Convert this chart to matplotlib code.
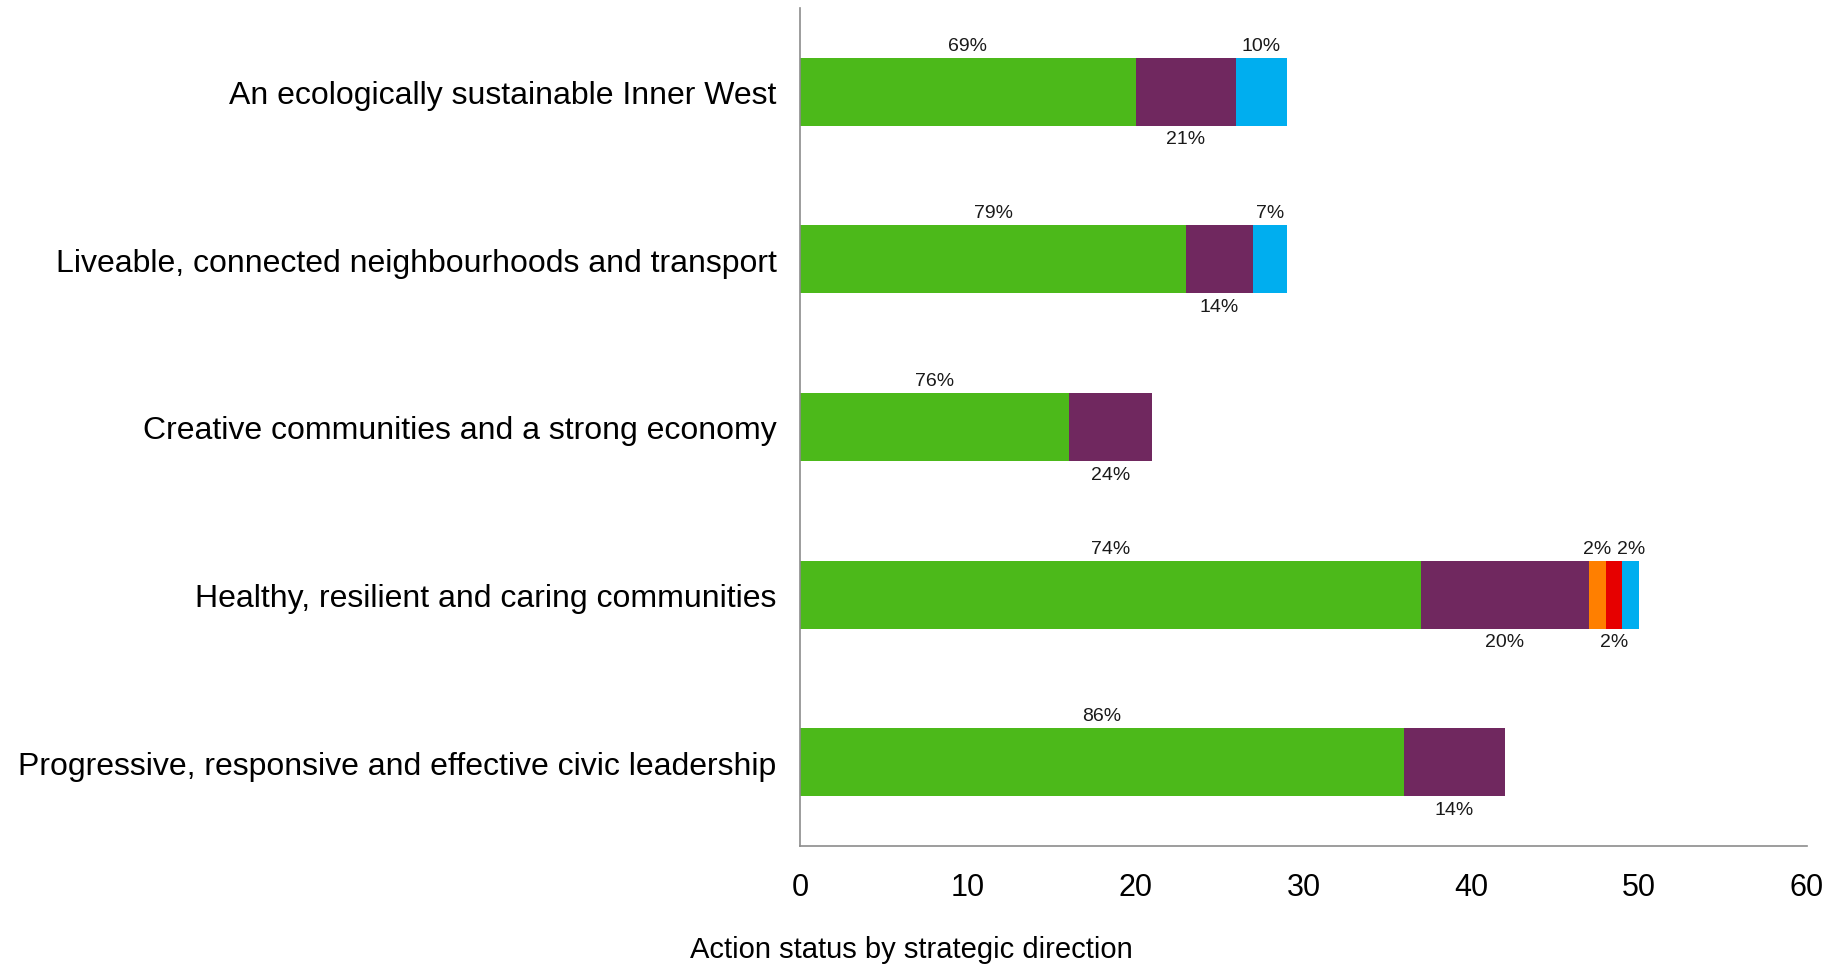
import numpy as np
import matplotlib.pyplot as plt

plt.rcParams['font.family'] = ['Liberation Sans', 'DejaVu Sans']

# Strategic directions (top to bottom)
directions = [
    "An ecologically sustainable Inner West",
    "Liveable, connected neighbourhoods and transport",
    "Creative communities and a strong economy",
    "Healthy, resilient and caring communities",
    "Progressive, responsive and effective civic leadership",
]

# Number of actions per status
green = [20, 23, 16, 37, 36]
purple = [6, 4, 5, 10, 6]
orange = [0, 0, 0, 1, 0]
red = [0, 0, 0, 1, 0]
blue = [3, 2, 0, 1, 0]

series = [green, purple, orange, red, blue]
colours = ["#4cb91a", "#70285f", "#ff7f00", "#e60000", "#00aeef"]

xticks = [0, 10, 20, 30, 40, 50, 60]

fig = plt.figure(figsize=(18.43, 9.70), dpi=100)
ax = fig.add_axes([800 / 1843, 1 - 847 / 970, 1007 / 1843, 838 / 970])

y = np.arange(len(directions))
totals = np.sum(series, axis=0)
left = np.zeros(len(directions))

for i, (vals, col) in enumerate(zip(series, colours)):
    vals = np.array(vals, dtype=float)
    ax.barh(y, vals, left=left, height=0.405, color=col, linewidth=0)
    # labels alternate above / below the bar
    for j, v in enumerate(vals):
        if v == 0:
            continue
        pct = "%d%%" % round(v / totals[j] * 100)
        if i % 2 == 0:
            ax.annotate(pct, (left[j] + v / 2, y[j] - 0.2025), xytext=(0, 9),
                        textcoords='offset points', ha='center', va='center',
                        fontsize=14, color='#1a1a1a')
        else:
            ax.annotate(pct, (left[j] + v / 2, y[j] + 0.2025), xytext=(0, -9.5),
                        textcoords='offset points', ha='center', va='center',
                        fontsize=14, color='#1a1a1a')
    left += vals

ax.set_xlim(0, 60)
ax.set_ylim(4.5, -0.5)
ax.set_xticks(xticks)
ax.set_xticklabels([str(t) for t in xticks], fontsize=22)
ax.set_yticks(y)
ax.set_yticklabels(directions, fontsize=23)
ax.tick_params(axis='x', length=0, pad=19)
ax.tick_params(axis='y', length=0, pad=17)

for s in ['top', 'right']:
    ax.spines[s].set_visible(False)
for s in ['left', 'bottom']:
    ax.spines[s].set_color('#8c8c8c')
    ax.spines[s].set_linewidth(1.2)

fig.text(911 / 1843, 1 - 950 / 970, "Action status by strategic direction",
         ha='center', va='center', fontsize=21)

fig.savefig("out.png", dpi=100)
